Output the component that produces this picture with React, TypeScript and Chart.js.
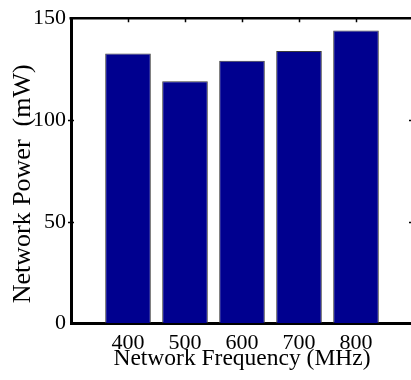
import React, { useEffect, useRef } from "react";
import { Chart, registerables } from "chart.js";

Chart.register(...registerables);

const categories = [400, 500, 600, 700, 800];
const powerValues = [132.6, 119.0, 129.1, 133.9, 144.0];
const xTicks = [400, 500, 600, 700, 800];
const yTicks = [0, 50, 100, 150];
const xRange = [300, 900];
const yRange = [0, 150];

const FONT = "'Liberation Serif', 'Times New Roman', serif";

const boxPlugin = {
  id: "matlabBox",
  afterDraw(chart: any) {
    const { ctx, chartArea: a, scales } = chart;
    const x = scales.x;
    const y = scales.y;
    ctx.save();
    ctx.strokeStyle = "#000";
    ctx.lineWidth = 2.5;
    ctx.beginPath();
    ctx.moveTo(a.left - 1.5, a.top);
    ctx.lineTo(a.right, a.top);
    ctx.lineTo(a.right, a.bottom);
    ctx.stroke();
    ctx.lineWidth = 1.5;
    ctx.beginPath();
    xTicks.forEach((v) => {
      const px = Math.round(x.getPixelForValue(v)) + 0.5;
      ctx.moveTo(px, a.top);
      ctx.lineTo(px, a.top + 4);
    });
    yTicks.forEach((v) => {
      if (v === yRange[0] || v === yRange[1]) return;
      const py = Math.round(y.getPixelForValue(v)) + 0.5;
      ctx.moveTo(a.left - 3, py);
      ctx.lineTo(a.left + 3, py);
      ctx.moveTo(a.right - 4, py);
      ctx.lineTo(a.right, py);
    });
    ctx.stroke();
    ctx.restore();
  },
};

export default function App() {
  const ref = useRef<HTMLCanvasElement | null>(null);

  useEffect(() => {
    if (!ref.current) return;
    const chart = new Chart(ref.current, {
      type: "bar",
      data: {
        datasets: [
          {
            data: categories.map((c, i) => ({ x: c, y: powerValues[i] })),
            backgroundColor: "#00008F",
            borderColor: "#3a3a3a",
            borderWidth: 1,
            barPercentage: 0.8,
            categoryPercentage: 1,
          },
        ],
      },
      options: {
        animation: false,
        responsive: false,
        layout: { padding: { top: 11.5, right: 17, left: 0, bottom: 0 } },
        plugins: { legend: { display: false }, tooltip: { enabled: false } },
        scales: {
          x: {
            type: "linear",
            min: xRange[0],
            max: xRange[1],
            offset: false,
            afterBuildTicks: (s: any) => {
              s.ticks = xTicks.map((v) => ({ value: v }));
            },
            afterFit: (s: any) => {
              s.height = 56.5;
            },
            grid: { offset: false, color: "rgba(0,0,0,0)", drawTicks: false },
            border: { display: true, color: "#000", width: 3 },
            ticks: {
              color: "#000",
              font: { family: FONT, size: 22 },
              padding: 7,
              maxRotation: 0,
              autoSkip: false,
              callback: (v: any) => String(v),
            },
            title: {
              display: true,
              text: "Network Frequency (MHz)",
              color: "#000",
              font: { family: FONT, size: 23.5 },
              padding: { top: 0, bottom: 7 },
            },
          },
          y: {
            type: "linear",
            min: yRange[0],
            max: yRange[1],
            afterBuildTicks: (s: any) => {
              s.ticks = yTicks.map((v) => ({ value: v }));
            },
            afterFit: (s: any) => {
              s.width = 71;
            },
            grid: { color: "rgba(0,0,0,0)", drawTicks: false },
            border: { display: true, color: "#000", width: 3 },
            ticks: {
              color: "#000",
              font: { family: FONT, size: 22 },
              padding: 5,
              callback: (v: any) => String(v),
            },
            title: {
              display: true,
              text: "Network Power  (mW)    ",
              color: "#000",
              font: { family: FONT, size: 26 },
              padding: { top: 8, bottom: 0 },
            },
          },
        },
      },
      plugins: [boxPlugin],
    });
    return () => chart.destroy();
  }, []);

  return (
    <div
      style={{
        position: "fixed",
        left: 0,
        top: 0,
        width: 411,
        height: 380,
        overflow: "hidden",
        background: "#fff",
      }}
    >
      <canvas ref={ref} width={430} height={380} style={{ display: "block" }} />
    </div>
  );
}
